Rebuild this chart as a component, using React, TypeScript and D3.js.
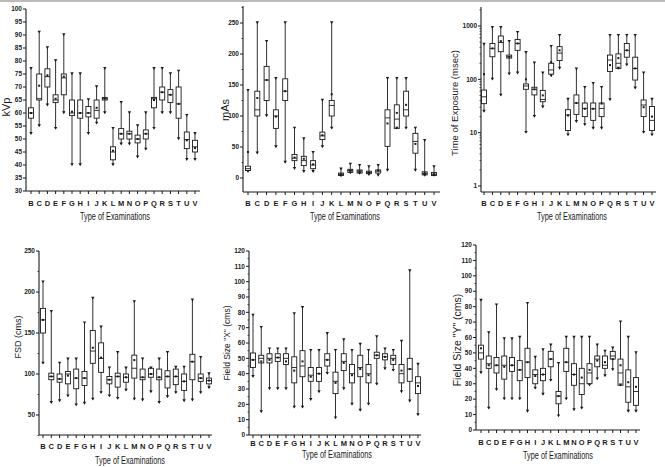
import React from "react";
import * as d3 from "d3";

const categories = ["B", "C", "D", "E", "F", "G", "H", "I", "J", "K", "L", "M", "N", "O", "P", "Q", "R", "S", "T", "U", "V"];

// each row: [min, q1, median, q3, max, mean]
const kvp = [
  [52, 58, 60, 62, 77, 60], [55, 65, 65.5, 75, 91, 70.5], [63, 70, 74, 77, 85, 74.5],
  [54, 64, 65, 67, 80, 65.5], [60, 67, 73.5, 75, 90, 74], [40, 59, 60, 65, 75, 60.5],
  [40, 58, 60, 65, 75, 60], [52, 58.5, 60, 62.5, 65, 60], [56, 58, 61, 65, 70, 62],
  [60, 65, 65.5, 66, 77, 65.5], [40, 42, 45, 47, 54, 45.5], [48, 50, 52, 54, 64, 52],
  [48, 50, 52, 53, 60, 52], [43, 48.5, 50, 51.5, 55, 50], [46, 50, 52, 53.5, 60, 52],
  [54, 62, 65.5, 66, 77, 65], [60, 65, 68, 70, 77, 68], [60, 64, 67, 69, 75, 67],
  [50, 58, 63.5, 70, 76, 63.5], [42, 46.3, 49.8, 52.7, 59, 49.5], [42, 45, 47, 49.5, 52, 46.5]
];

const mas = [
  [10, 12, 15, 19, 141, 42], [40, 100, 110, 140, 250, 129], [100, 125, 158, 180, 220, 158],
  [50, 80, 100, 110, 160, 99], [25, 125, 140, 160, 250, 140], [15, 28, 32, 38, 80, 33],
  [10, 20, 28, 35, 63, 31], [10, 15, 21, 28, 41, 22], [50, 62, 68, 74, 125, 69],
  [80, 100, 117, 125, 250, 135], [3, 4, 6, 8, 14, 6], [8, 9, 12, 14, 22, 12],
  [7, 8, 11, 13, 20, 11], [5, 7, 9, 11, 18, 9], [4, 8, 11, 13, 20, 12],
  [12, 51, 97, 110, 160, 88], [80, 80, 95, 118, 160, 105], [80, 100, 110, 140, 160, 118],
  [12, 40, 59, 72, 80, 55], [4, 5, 7, 10, 60, 8], [4, 4, 6, 9, 18, 6]
];

const exposure = [
  [25, 35, 47, 63, 450, 125], [100, 265, 380, 470, 930, 380], [50, 330, 490, 650, 930, 520],
  [125, 250, 265, 285, 510, 265], [130, 350, 470, 560, 750, 470], [10, 65, 75, 82, 316, 100],
  [20, 51, 65, 71, 200, 65], [30, 38, 42, 62, 130, 50], [115, 125, 150, 200, 410, 210],
  [160, 225, 310, 410, 660, 350], [9, 11, 21.5, 27, 42, 21], [16, 22, 36, 51, 155, 36],
  [14, 20, 28.5, 36, 70, 28], [12, 17, 28, 36, 83, 28], [12, 20, 28.5, 36, 70, 35],
  [41, 140, 230, 285, 660, 185], [160, 160, 200, 300, 660, 250], [185, 260, 350, 470, 660, 350],
  [68, 97, 160, 260, 660, 160], [10, 20, 33, 41, 130, 30], [9, 11, 17, 31, 42, 20]
];

const fsd = [
  [113, 150, 166, 180, 212, 166], [65, 93, 97, 101, 176, 97], [67, 90, 94, 100, 113, 94],
  [73, 88, 100, 103, 118, 98], [62, 82, 95, 106, 118, 95], [64, 86, 95, 103, 162, 95],
  [69, 113, 128, 153, 192, 132], [77, 102, 119, 138, 157, 120], [73, 88, 93, 97, 107, 93],
  [70, 84, 97, 101, 126, 97], [80, 90, 96, 100, 107, 96], [69, 95, 107, 123, 188, 117],
  [68, 93, 96, 106, 118, 96], [78, 96, 100, 107, 107, 100], [65, 93, 96, 106, 118, 96],
  [72, 83, 97, 104, 126, 97], [77, 87, 97, 106, 108, 97], [67, 80, 91, 100, 108, 91],
  [68, 93, 115, 124, 190, 115], [77, 91, 95, 100, 120, 95], [83, 88, 92, 95, 100, 92]
];

const fieldX = [
  [38, 44, 49, 53.5, 78, 49], [15, 47, 50, 52, 70, 48], [30, 47, 50, 53, 56, 49],
  [30, 48, 50.5, 53, 56, 50.5], [30, 46, 50, 53, 56, 48], [18, 34, 44, 51, 79, 42],
  [18, 38, 45, 55, 83, 48], [23, 35, 39, 44, 55, 38], [28, 35, 40, 44, 55, 40],
  [40, 45, 49, 53, 66, 49], [11, 27, 35, 41, 55, 34], [30, 42, 48, 53, 62, 47],
  [20, 34, 40, 46, 55, 39], [16, 38, 44, 52, 59, 43], [20, 34, 40, 46, 55, 39],
  [33, 50, 52, 54, 64, 52], [43, 49, 51, 53, 56, 51], [42, 46, 50, 52, 55, 49],
  [28, 34, 40, 46, 61, 42], [22, 35, 43, 50, 107, 43], [13, 27, 34, 38, 46, 32]
];

const fieldY = [
  [37, 46, 50, 55, 84, 53], [14, 40, 43, 48, 63, 42], [26, 37, 42, 47, 81, 42],
  [20, 33, 42, 48, 59, 41], [20, 38, 42, 47, 59, 42], [20, 32, 39, 45, 60, 39],
  [12, 34, 44, 53, 82, 44], [27, 30, 36, 39, 47, 35], [23, 32, 36, 40, 52, 36],
  [32, 41, 46, 51, 55, 46], [9, 17, 22, 25, 43, 22], [20, 38, 44, 53, 60, 44],
  [13, 29, 36, 43, 60, 36], [14, 23, 30, 40, 60, 34], [29, 30, 37, 43, 60, 39],
  [33, 41, 46, 48, 55, 45], [35, 40, 42, 48, 51, 44], [39, 46, 48, 51, 53, 46],
  [29, 29, 37, 46, 70, 42], [12, 18, 28, 39, 60, 31], [12, 16, 25, 34, 50, 28]
];

const ink = "#1a1a1a";
const labelFont = "'Liberation Sans', Arial, sans-serif";

type PanelProps = {
  rows: number[][];
  y: any;
  axisX: number;
  axisEnd: number;
  xFirst: number;
  xLast: number;
  yTop: number;
  yBottom: number;
  majors: number[];
  minors: number[];
  yLabel: string;
  yLabelX: number;
  yLabelY: number;
  yLabelSize: number;
  catY: number;
  titleX: number;
  titleY: number;
};

function Panel(p: PanelProps) {
  const x = d3.scalePoint<string>().domain(categories).range([p.xFirst, p.xLast]);
  const bw = 5;
  const tri = (cx: number, cy: number) => `M${cx - 1.7},${cy - 1.7}L${cx + 1.7},${cy - 1.7}L${cx},${cy + 1.2}Z`;

  const boxes = p.rows.map((r, i) => {
    const cx = x(categories[i]) as number;
    const [mn, q1, md, q3, mx, mean] = r;
    return (
      <g key={`box${i}`} stroke={ink} strokeWidth={0.9}>
        <line x1={cx} x2={cx} y1={p.y(mx)} y2={p.y(mn)} />
        <rect x={cx - bw / 2} y={p.y(q3)} width={bw} height={Math.max(p.y(q1) - p.y(q3), 1)} fill="white" />
        <line x1={cx - bw / 2} x2={cx + bw / 2} y1={p.y(md)} y2={p.y(md)} />
        <rect x={cx - 1} y={p.y(mean) - 1} width={2} height={2} fill={ink} stroke="none" />
        <path d={tri(cx, p.y(mx))} fill={ink} stroke="none" />
        <path d={tri(cx, p.y(mn))} fill={ink} stroke="none" />
      </g>
    );
  });

  const fmt = (v: number) => d3.format("~g")(v);

  return (
    <g>
      {/* axes */}
      <line x1={p.axisX} x2={p.axisX} y1={p.yTop} y2={p.yBottom} stroke={ink} strokeWidth={1.1} />
      <line x1={p.axisX} x2={p.axisEnd} y1={p.yBottom} y2={p.yBottom} stroke={ink} strokeWidth={1.1} />
      {p.majors.map((t) => (
        <g key={`maj${t}`}>
          <line x1={p.axisX - 3} x2={p.axisX} y1={p.y(t)} y2={p.y(t)} stroke={ink} />
          <text
            x={p.axisX - 4}
            y={p.y(t) + 2.2}
            textAnchor="end"
            fontSize={6.5}
            fontWeight="bold"
            fontFamily={labelFont}
            fill={ink}
          >
            {fmt(t)}
          </text>
        </g>
      ))}
      {p.minors.map((t, i) => (
        <line key={`min${i}`} x1={p.axisX - 1.5} x2={p.axisX} y1={p.y(t)} y2={p.y(t)} stroke={ink} strokeWidth={0.8} />
      ))}
      {categories.map((c) => (
        <g key={`cat${c}`}>
          <line x1={x(c)} x2={x(c)} y1={p.yBottom} y2={p.yBottom + 3} stroke={ink} />
          <text
            x={x(c)}
            y={p.catY + 3}
            textAnchor="middle"
            fontSize={7.5}
            fontWeight="bold"
            fontFamily={labelFont}
            fill={ink}
          >
            {c}
          </text>
        </g>
      ))}
      {boxes}
      <text
        x={p.titleX - 35}
        y={p.titleY + 3.5}
        fontSize={10}
        textLength={70}
        lengthAdjust="spacingAndGlyphs"
        fontFamily={labelFont}
        fill={ink}
      >
        Type of Examinations
      </text>
      <text
        transform={`translate(${p.yLabelX},${p.yLabelY}) rotate(-90)`}
        textAnchor="middle"
        dy="0.35em"
        fontSize={p.yLabelSize}
        fontFamily={labelFont}
        fill={ink}
      >
        {p.yLabel}
      </text>
    </g>
  );
}

function range(a: number, b: number, s: number) {
  return d3.range(a, b + s / 2, s);
}

export default function App() {
  const yKvp = d3.scaleLinear().domain([30, 100]).range([191, 9]);
  const yMas = d3.scaleLinear().domain([0, 250]).range([178, 23]);
  const yExp = d3.scaleLog().domain([1, 1000]).range([186, 26]);
  const yFsd = d3.scaleLinear().domain([50, 250]).range([415, 251]);
  const yFx = d3.scaleLinear().domain([0, 120]).range([435, 251]);
  const yFy = d3.scaleLinear().domain([0, 120]).range([430, 245]);

  const logMinors: number[] = [];
  [1, 10, 100, 1000].forEach((d) => {
    for (let k = 2; k <= 9; k++) if (d * k < 2200) logMinors.push(d * k);
  });

  return (
    <svg width={665} height={467} style={{ position: "absolute", left: 0, top: 0 }}>
      <rect width={665} height={467} fill="white" />
      <line x1={0} x2={665} y1={1} y2={1} stroke="#bbb" strokeWidth={2} />
      <Panel
        rows={kvp} y={yKvp} axisX={26} axisEnd={200} xFirst={31} xLast={195}
        yTop={9} yBottom={191} majors={range(30, 100, 5)} minors={[]}
        yLabel="kVp" yLabelX={6} yLabelY={107} yLabelSize={11}
        catY={203} titleX={115} titleY={216}
      />
      <Panel
        rows={mas} y={yMas} axisX={243} axisEnd={440} xFirst={248} xLast={434}
        yTop={6} yBottom={192} majors={range(0, 250, 50)} minors={range(25, 275, 50)}
        yLabel="mAs" yLabelX={225} yLabelY={110} yLabelSize={11}
        catY={203} titleX={345} titleY={216}
      />
      <Panel
        rows={exposure} y={yExp} axisX={481} axisEnd={656} xFirst={484} xLast={652}
        yTop={7} yBottom={192} majors={[1, 10, 100, 1000]} minors={logMinors}
        yLabel="Time of Exposure (msec)" yLabelX={455} yLabelY={103} yLabelSize={9.5}
        catY={203} titleX={572} titleY={216}
      />
      <Panel
        rows={fsd} y={yFsd} axisX={39} axisEnd={212} xFirst={43} xLast={209}
        yTop={251} yBottom={435} majors={range(50, 250, 50)} minors={range(25, 225, 50)}
        yLabel="FSD (cms)" yLabelX={18} yLabelY={337} yLabelSize={9}
        catY={446} titleX={130} titleY={460}
      />
      <Panel
        rows={fieldX} y={yFx} axisX={249} axisEnd={421} xFirst={253} xLast={418}
        yTop={251} yBottom={435} majors={range(0, 120, 10)} minors={range(5, 115, 10)}
        yLabel={'Field Size "X" (cms)'} yLabelX={227} yLabelY={343} yLabelSize={8.5}
        catY={443} titleX={337} titleY={454}
      />
      <Panel
        rows={fieldY} y={yFy} axisX={476} axisEnd={640} xFirst={481} xLast={636}
        yTop={245} yBottom={430} majors={range(0, 120, 10)} minors={range(5, 115, 10)}
        yLabel={'Field Size "Y" (cms)'} yLabelX={457} yLabelY={340} yLabelSize={10.5}
        catY={442} titleX={558} titleY={455}
      />
    </svg>
  );
}
